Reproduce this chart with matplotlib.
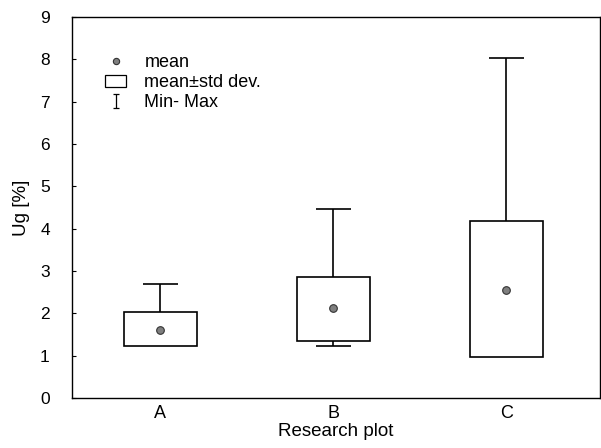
import matplotlib
matplotlib.use("Agg")
import matplotlib.pyplot as plt
from matplotlib.lines import Line2D
from matplotlib.patches import Patch
from matplotlib.path import Path
import numpy as np

plt.rcParams['font.family'] = ['Liberation Sans', 'DejaVu Sans']

categories = ["A", "B", "C"]
means = [1.61, 2.12, 2.56]
box_low = [1.24, 1.35, 0.98]
box_high = [2.02, 2.85, 4.17]
mins = [1.24, 1.23, 0.98]
maxs = [2.69, 4.47, 8.04]
yticks = [0, 1, 2, 3, 4, 5, 6, 7, 8, 9]

fig = plt.figure(figsize=(6.01, 4.48), dpi=100)
ax = fig.add_axes([0.1198, 0.1116, 0.878, 0.8504])

x = np.arange(1, len(categories) + 1)
box_w = 0.42
cap_w = 0.20

ax.bar(x, np.array(box_high) - np.array(box_low), bottom=box_low, width=box_w,
       facecolor='white', edgecolor='black', linewidth=1.2, zorder=2)
# upper whiskers
ax.vlines(x, box_high, maxs, color='black', linewidth=1.2, zorder=1)
ax.hlines(maxs, x - cap_w / 2, x + cap_w / 2, color='black', linewidth=1.2, zorder=1)
# lower whiskers
ax.vlines(x, mins, box_low, color='black', linewidth=1.2, zorder=1)
for xi, lo, mn in zip(x, box_low, mins):
    if mn < lo:
        ax.hlines(mn, xi - cap_w / 2, xi + cap_w / 2, color='black', linewidth=1.2, zorder=1)
ax.plot(x, means, 'o', markersize=5.5, markerfacecolor='#7f7f7f',
        markeredgecolor='#333333', markeredgewidth=0.8, linestyle='none', zorder=3)

ax.set_xlim(0.49, 3.54)
ax.set_ylim(0, 9)
ax.set_yticks(yticks)
ax.set_xticks(x)
ax.set_xticklabels(categories)
ax.tick_params(axis='y', direction='in', length=3, width=0.8, labelsize=12.5, pad=16)
ax.tick_params(axis='x', length=0, labelsize=13, pad=5)
for s in ax.spines.values():
    s.set_linewidth(1.0)

ax.set_xlabel("Research plot", fontsize=13.5, labelpad=1)
ax.set_ylabel("Ug [%]", fontsize=13.5, labelpad=7)

ibeam = Path([(-0.4, -1), (0.4, -1), (0, -1), (0, 1), (-0.4, 1), (0.4, 1)],
             [Path.MOVETO, Path.LINETO, Path.MOVETO, Path.LINETO, Path.MOVETO, Path.LINETO])
handles = [
    Line2D([], [], marker='o', linestyle='none', markersize=4.5,
           markerfacecolor='#7f7f7f', markeredgecolor='#333333', markeredgewidth=0.8),
    Patch(facecolor='white', edgecolor='black', linewidth=0.9),
    Line2D([], [], marker=ibeam, linestyle='none', markersize=10,
           markerfacecolor='none', markeredgecolor='black', markeredgewidth=0.9),
]
ax.legend(handles, ["mean", "mean\u00b1std dev.", "Min- Max"], loc='upper left',
          bbox_to_anchor=(0.038, 0.935), frameon=False, fontsize=13,
          handlelength=1.2, handleheight=0.65, handletextpad=1.0,
          labelspacing=0.15, borderpad=0.2)

fig.savefig("out.png", dpi=100)
